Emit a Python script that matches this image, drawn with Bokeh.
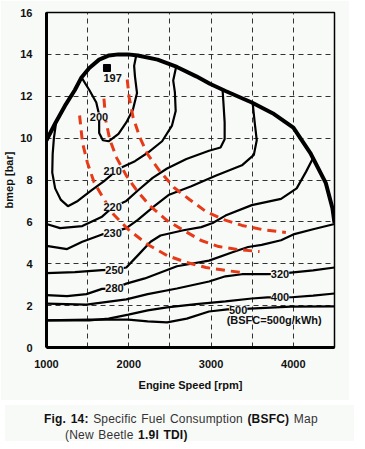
from bokeh.plotting import figure
from bokeh.models import FixedTicker, Label, Range1d, Div
from bokeh.layouts import column
from bokeh.embed import file_html
from bokeh.resources import INLINE

BG = "#f8faf8"

# ---- data ----
x_ticks = [1000, 2000, 3000, 4000]
y_ticks = [0, 2, 4, 6, 8, 10, 12, 14, 16]
x_grid = [1500, 2000, 2500, 3000, 3500, 4000]
y_grid = [2, 4, 6, 8, 10, 12, 14]

fl_rpm = [1000, 1105, 1225, 1345, 1425, 1520, 1640, 1760, 1875, 1990, 2110, 2350, 2585, 2820, 2985, 3175, 3495, 3765, 4000, 4205, 4395, 4475, 4500]
fl_bmep = [9.9, 10.7, 11.55, 12.3, 12.9, 13.35, 13.75, 13.95, 14.0, 14.0, 13.95, 13.75, 13.4, 12.95, 12.6, 12.25, 11.7, 11.15, 10.5, 9.3, 7.85, 6.65, 5.95]

c200_rpm = [1425, 1520, 1605, 1640, 1640, 1685, 1755, 1875, 1970, 2050, 2100, 2075, 2065, 2090]
c200_bmep = [12.9, 12.3, 11.7, 11.1, 10.25, 9.9, 9.85, 10.2, 10.75, 11.35, 12.15, 12.95, 13.45, 13.95]

c210_rpm = [1120, 1090, 1075, 1070, 1105, 1175, 1260, 1380, 1545, 1700, 1805, 1910, 2075, 2230, 2405, 2525, 2570, 2560, 2540, 2575]
c210_bmep = [10.85, 10.0, 9.25, 8.35, 7.6, 7.05, 6.75, 7.0, 7.5, 7.95, 8.3, 8.6, 8.9, 9.3, 9.85, 10.6, 11.3, 12.2, 12.75, 13.4]

c220_rpm = [1000, 1165, 1435, 1675, 1805, 1970, 2110, 2290, 2465, 2700, 2975, 3115, 3165, 3165, 3150, 3140]
c220_bmep = [5.9, 5.7, 5.8, 6.25, 6.7, 7.0, 7.5, 8.1, 8.55, 9.0, 9.4, 9.55, 9.95, 10.75, 11.7, 12.3]

c230_rpm = [1000, 1250, 1435, 1675, 1805, 1970, 2110, 2310, 2490, 2760, 3055, 3375, 3520, 3555, 3530, 3505]
c230_bmep = [4.85, 4.7, 5.05, 5.4, 5.5, 5.7, 6.1, 6.75, 7.3, 7.7, 8.2, 8.7, 9.2, 9.9, 10.75, 11.7]

c250_rpm = [1000, 1345, 1675, 1825, 1970, 2110, 2265, 2385, 2665, 2880, 3020, 3175, 3495, 3850, 4040, 4155, 4240]
c250_bmep = [3.55, 3.6, 3.7, 3.72, 3.82, 4.4, 5.05, 5.35, 5.6, 5.75, 5.95, 6.3, 6.8, 7.1, 7.6, 8.4, 9.05]

c280_rpm = [1000, 1250, 1485, 1675, 1825, 1970, 2195, 2585, 2975, 3260, 3450, 3615, 3850, 4000, 4240, 4500]
c280_bmep = [2.5, 2.45, 2.55, 2.8, 2.82, 3.05, 3.3, 3.88, 4.15, 4.55, 4.8, 4.9, 5.12, 5.4, 5.65, 5.9]

c320_rpm = [1000, 1485, 1970, 2230, 2585, 2975, 3175, 3375, 3670, 3840, 3970, 4240, 4500]
c320_bmep = [2.1, 2.05, 2.3, 2.55, 2.82, 3.15, 3.4, 3.5, 3.5, 3.52, 3.58, 3.68, 3.82]

c400_rpm = [1000, 1520, 1755, 1995, 2230, 2465, 2820, 3175, 3495, 3685, 3840, 3980, 4240, 4500]
c400_bmep = [1.3, 1.3, 1.38, 1.57, 1.77, 1.92, 2.07, 2.2, 2.34, 2.39, 2.39, 2.4, 2.48, 2.58]

c500_rpm = [1000, 1520, 1995, 2230, 2465, 2705, 2975, 3200, 3330, 3470, 3970, 4500]
c500_bmep = [1.3, 1.33, 1.33, 1.25, 1.2, 1.38, 1.72, 1.82, 1.83, 1.86, 1.95, 1.96]

redA_rpm = [1981, 2005, 2052, 2135, 2230, 2372, 2549, 2738, 2939, 3152, 3377, 3613, 3909]
redA_bmep = [12.8, 11.94, 11.0, 10.03, 9.22, 8.45, 7.64, 7.07, 6.49, 6.11, 5.83, 5.64, 5.49]
redB_rpm = [1698, 1721, 1769, 1851, 1970, 2088, 2253, 2466, 2667, 2880, 3093, 3329, 3589]
redB_bmep = [11.89, 10.84, 9.93, 9.07, 8.21, 7.55, 6.78, 6.06, 5.59, 5.11, 4.82, 4.68, 4.58]
redC_rpm = [1402, 1437, 1497, 1579, 1686, 1816, 1993, 2230, 2466, 2703, 2939, 3176, 3377]
redC_bmep = [11.08, 9.79, 8.83, 7.88, 7.16, 6.35, 5.64, 4.92, 4.39, 4.06, 3.82, 3.68, 3.58]

best_rpm = [1735]
best_bmep = [13.35]

lbl_text = ["197", "200", "210", "220", "230", "250", "280", "320", "400", "500"]
lbl_rpm = [1804, 1638, 1804, 1804, 1804, 1827, 1827, 3838, 3838, 3329]
lbl_bmep = [12.85, 11.03, 8.45, 6.73, 5.49, 3.72, 2.82, 3.53, 2.39, 1.81]

# ---- figure ----
p = figure(width=349, height=400, x_range=Range1d(1000, 4500), y_range=Range1d(0, 16),
           output_backend="svg", toolbar_location=None,
           min_border_left=38, min_border_right=15, min_border_top=12, min_border_bottom=53)
p.background_fill_color = BG
p.border_fill_color = BG
p.outline_line_color = "black"
p.outline_line_width = 1.5

p.xaxis.ticker = FixedTicker(ticks=x_ticks)
p.yaxis.ticker = FixedTicker(ticks=y_ticks)
p.xgrid.ticker = FixedTicker(ticks=x_grid)
p.ygrid.ticker = FixedTicker(ticks=y_grid)
for g in (p.xgrid, p.ygrid):
    g.grid_line_color = "#333333"
    g.grid_line_dash = "5 4"
    g.grid_line_width = 1

for ax in (p.xaxis, p.yaxis):
    ax.axis_line_width = 3
    ax.axis_line_color = "black"
    ax.major_tick_line_color = None
    ax.minor_tick_line_color = None
    ax.major_label_text_font = "Liberation Sans"
    ax.major_label_text_font_style = "bold"
    ax.major_label_text_font_size = "11px"
    ax.major_label_text_color = "#111111"
    ax.axis_label_text_font = "Liberation Sans"
    ax.axis_label_text_font_style = "bold"
    ax.axis_label_text_font_size = "11px"
    ax.axis_label_text_color = "#111111"

p.xaxis.axis_label = "Engine Speed [rpm]"
p.yaxis.axis_label = "bmep [bar]"
p.xaxis.major_label_standoff = 6
p.xaxis.axis_label_standoff = 8
p.yaxis.major_label_standoff = 8
p.yaxis.axis_label_standoff = 2

# contours
for xs, ys in [(c200_rpm, c200_bmep), (c210_rpm, c210_bmep), (c220_rpm, c220_bmep),
               (c230_rpm, c230_bmep), (c250_rpm, c250_bmep), (c280_rpm, c280_bmep),
               (c320_rpm, c320_bmep), (c400_rpm, c400_bmep), (c500_rpm, c500_bmep)]:
    p.line(xs, ys, line_color="black", line_width=2.2)

# red dashed lines
for xs, ys in [(redA_rpm, redA_bmep), (redB_rpm, redB_bmep), (redC_rpm, redC_bmep)]:
    p.line(xs, ys, line_color="#e63a18", line_width=3, line_dash="9 6")

# full-load curve
p.line(fl_rpm, fl_bmep, line_color="black", line_width=4)

p.scatter(best_rpm, best_bmep, marker="square", size=7, color="black")

for t, x, y in zip(lbl_text, lbl_rpm, lbl_bmep):
    p.add_layout(Label(x=x, y=y, text=t, text_align="center", text_baseline="middle",
                       text_font="Liberation Sans", text_font_size="11px", text_font_style="bold",
                       text_color="#111111", background_fill_color=BG))

p.add_layout(Label(x=3767, y=1.29, text="(BSFC=500g/kWh)", text_align="center", text_baseline="middle",
                   text_font="Liberation Sans", text_font_size="11px", text_font_style="bold",
                   text_color="#111111"))

caption = Div(
    text=('<div style="padding-left:39px"><b style="color:#111">Fig. 14:</b>'
          '<span style="color:#333"> Specific Fuel Consumption </span><b style="color:#111">(BSFC)</b>'
          '<span style="color:#333"> Map</span></div>'
          '<div style="padding-left:60px"><span style="color:#333">(New Beetle </span>'
          '<b style="color:#111">1.9l TDI)</b></div>'),
    width=349, height=36,
    styles={"font-family": "Liberation Sans, Arial, sans-serif", "font-size": "12px",
            "line-height": "16px", "word-spacing": "1px", "letter-spacing": "0.2px",
            "background-color": BG, "padding-top": "6px"})

open("out.html", "w").write(file_html(column(p, caption), INLINE))
